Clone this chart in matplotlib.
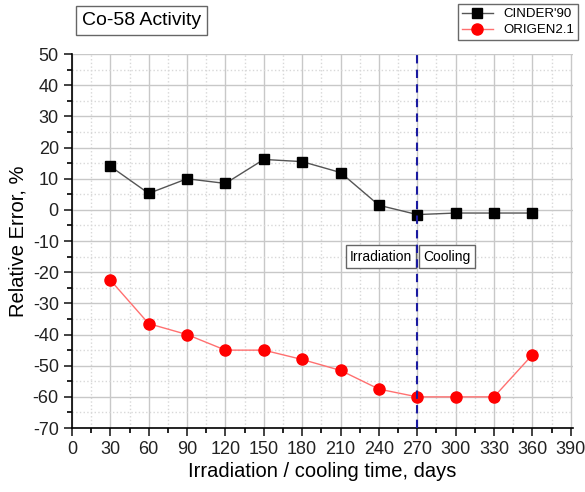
import matplotlib.pyplot as plt
from matplotlib.ticker import MultipleLocator

# dados
days = [30, 60, 90, 120, 150, 180, 210, 240, 270, 300, 330, 360]
cinder = [14, 5.3, 10, 8.5, 16.2, 15.5, 12, 1.5, -1.5, -1, -1, -1]
origen = [-22.5, -36.5, -40, -45, -45, -48, -51.5, -57.5, -60, -60, -60, -46.5]
end_irradiation = 270

plt.rcParams['font.family'] = ['Liberation Sans', 'DejaVu Sans']
plt.rcParams['axes.unicode_minus'] = False

fig = plt.figure(figsize=(5.85, 4.92), dpi=100)
ax = fig.add_axes([0.123, 0.130, 0.857, 0.760])

ax.plot(days, cinder, color='#555555', linewidth=1, marker='s', markersize=7,
        markerfacecolor='black', markeredgecolor='black', label="CINDER'90", zorder=3)
ax.plot(days, origen, color='#ff7070', linewidth=1, marker='o', markersize=8,
        markerfacecolor='red', markeredgecolor='red', label='ORIGEN2.1', zorder=3)

ax.axvline(end_irradiation, color='#1a1aa0', linestyle=(0, (4, 3)), linewidth=1.5, zorder=4)

ax.set_xlim(0, 392)
ax.set_ylim(-70, 50)
ax.xaxis.set_major_locator(MultipleLocator(30))
ax.xaxis.set_minor_locator(MultipleLocator(15))
ax.yaxis.set_major_locator(MultipleLocator(10))
ax.yaxis.set_minor_locator(MultipleLocator(5))

ax.grid(which='major', color='#c8c8c8', linewidth=1)
ax.grid(which='minor', color='#d8d8d8', linestyle=':', linewidth=1)
ax.set_axisbelow(True)

for s in ['top', 'right']:
    ax.spines[s].set_visible(False)
ax.spines['left'].set_linewidth(1.2)
ax.spines['bottom'].set_linewidth(1.2)
ax.tick_params(which='major', direction='out', length=6, width=1.2, labelsize=13, colors='#222222')
ax.tick_params(which='minor', direction='out', length=3.5, width=1.2)

ax.set_xlabel('Irradiation / cooling time, days', fontsize=14.5, labelpad=3)
ax.set_ylabel('Relative Error, %', fontsize=14.5, labelpad=4)

box = dict(boxstyle='square,pad=0.3', facecolor='white', edgecolor='#666666', linewidth=1)
fig.text(0.140, 0.958, 'Co-58 Activity', fontsize=14, ha='left', va='center', bbox=box)
ax.text(end_irradiation - 4, -15, 'Irradiation', fontsize=10, ha='right', va='center', bbox=box)
ax.text(end_irradiation + 5, -15, 'Cooling', fontsize=10, ha='left', va='center', bbox=box)

leg = fig.legend(loc='upper right', bbox_to_anchor=(0.988, 0.992), fontsize=9.5,
                 frameon=True, fancybox=False, edgecolor='#444444',
                 borderpad=0.3, handlelength=2.3, labelspacing=0.3, borderaxespad=0)
leg.get_frame().set_linewidth(1)

plt.savefig('out.png', dpi=100)
plt.close()
